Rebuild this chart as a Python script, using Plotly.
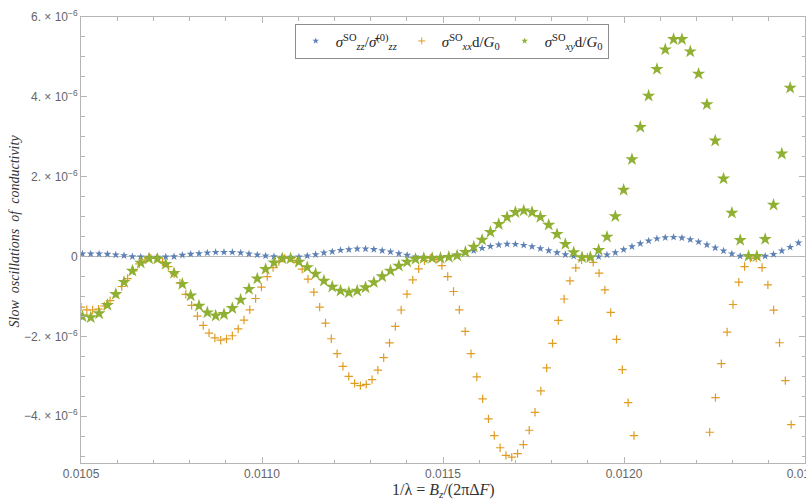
import plotly.graph_objects as go

# ---- sampling grids (uniform in 1/lambda) ----
ZZ_XY_START = 0.010504
ZZ_XY_STEP = 2.3e-5
XX_START = 0.0105
XX_STEP = 1.608e-5

# ---- series values, in units of 1e-6 ----
sigma_zz = [
    0.068, 0.068, 0.068, 0.060, 0.043, 0.025, 0.000, -0.008, -0.015, -0.015,
    -0.008, 0.000, 0.035, 0.060, 0.075, 0.093, 0.110, 0.110, 0.110, 0.093,
    0.068, 0.043, 0.018, 0.000, -0.015, -0.015, -0.008, 0.018, 0.050, 0.093,
    0.125, 0.160, 0.175, 0.193, 0.193, 0.180, 0.150, 0.118, 0.075, 0.035,
    -0.003, -0.015, -0.020, -0.015, 0.005, 0.043, 0.093, 0.148, 0.210, 0.255,
    0.293, 0.313, 0.310, 0.285, 0.250, 0.200, 0.150, 0.098, 0.050, 0.010,
    -0.020, -0.023, -0.003, 0.043, 0.100, 0.173, 0.250, 0.325, 0.393, 0.448,
    0.475, 0.485, 0.468, 0.425, 0.368, 0.293, 0.218, 0.143, 0.068, 0.010,
    -0.008, -0.008, 0.010, 0.055, 0.143, 0.235, 0.343,
]

sigma_xy = [
    -1.500, -1.525, -1.425, -1.215, -0.940, -0.638, -0.358, -0.158, -0.050, -0.058,
    -0.190, -0.415, -0.688, -0.978, -1.233, -1.403, -1.483, -1.445, -1.295, -1.083,
    -0.815, -0.553, -0.315, -0.150, -0.050, -0.050, -0.133, -0.270, -0.433, -0.608,
    -0.758, -0.858, -0.900, -0.858, -0.775, -0.648, -0.500, -0.358, -0.233, -0.133,
    -0.065, -0.040, -0.038, -0.038, -0.013, 0.023, 0.113, 0.243, 0.418, 0.613,
    0.810, 0.985, 1.110, 1.150, 1.110, 0.988, 0.793, 0.560, 0.310, 0.105,
    -0.020, -0.020, 0.163, 0.493, 1.005, 1.668, 2.435, 3.243, 4.025, 4.693,
    5.185, 5.443, 5.443, 5.135, 4.575, 3.810, 2.900, 1.950, 1.093, 0.410,
    0.010, 0.010, 0.435, 1.293, 2.575, 4.225,
]

# None: value lies below the plotted range
sigma_xx = [
    -1.265, -1.333, -1.338, -1.315, -1.238, -1.103, -0.928, -0.750, -0.550, -0.358,
    -0.183, -0.083, -0.040, -0.040, -0.133, -0.250, -0.433, -0.665, -0.945, -1.220,
    -1.490, -1.725, -1.915, -2.038, -2.095, -2.063, -1.983, -1.813, -1.590, -1.333,
    -1.050, -0.765, -0.500, -0.275, -0.125, -0.040, -0.040, -0.145, -0.315, -0.565,
    -0.890, -1.265, -1.665, -2.058, -2.433, -2.750, -3.000, -3.175, -3.233, -3.200,
    -3.083, -2.845, -2.533, -2.163, -1.750, -1.338, -0.940, -0.583, -0.308, -0.103,
    -0.040, -0.070, -0.225, -0.500, -0.875, -1.333, -1.875, -2.433, -3.015, -3.565,
    -4.065, -4.483, -4.788, -4.978, -5.025, -4.933, -4.708, -4.350, -3.900, -3.365,
    -2.790, -2.173, -1.600, -1.063, -0.608, -0.283, -0.083, -0.015, -0.145, -0.415,
    -0.833, -1.400, -2.075, -2.833, -3.658, -4.483, None, None, None, None,
    None, None, None, None, None, None, None, None, -4.400, -3.533,
    -2.683, -1.890, -1.200, -0.640, -0.250, -0.040, -0.040, -0.275, -0.708, -1.340,
    -2.158, -3.108, -4.208,
]

x_ticks = [0.0105, 0.0110, 0.0115, 0.0120, 0.0125]
x_tick_text = ["0.0105", "0.0110", "0.0115", "0.0120", "0.0125"]
y_ticks = [-4e-6, -2e-6, 0, 2e-6, 4e-6, 6e-6]
y_tick_text = ["−4. × 10<sup>−6</sup>", "−2. × 10<sup>−6</sup>", "0",
               "2. × 10<sup>−6</sup>", "4. × 10<sup>−6</sup>", "6. × 10<sup>−6</sup>"]

legend_labels = [
    "<i>σ</i><sup>SO</sup><sub><i>zz</i></sub>/<i>σ̄</i><sup>(0)</sup><sub><i>zz</i></sub>",
    "<i>σ</i><sup>SO</sup><sub><i>xx</i></sub>d/<i>G</i><sub>0</sub>",
    "<i>σ</i><sup>SO</sup><sub><i>xy</i></sub>d/<i>G</i><sub>0</sub>",
]

x_zz_xy = [ZZ_XY_START + i * ZZ_XY_STEP for i in range(len(sigma_zz))]
x_xx = [XX_START + i * XX_STEP for i in range(len(sigma_xx))]


def scaled(vals):
    return [None if v is None else v * 1e-6 for v in vals]


BLUE = "#5E81B5"
ORANGE = "#E19C24"
GREEN = "#8FB032"
FRAME = "#B5B5B5"
SERIF = "Liberation Serif"

styles = [
    dict(symbol="star", size=6, color=BLUE, line=dict(width=0)),
    dict(symbol="cross-thin", size=6, color=ORANGE, line=dict(color=ORANGE, width=1.2)),
    dict(symbol="star", size=10, color=GREEN, line=dict(width=0)),
]
legend_styles = [
    dict(symbol="star", size=5, color=BLUE, line=dict(width=0)),
    dict(symbol="cross-thin", size=5, color=ORANGE, line=dict(color=ORANGE, width=1)),
    dict(symbol="star", size=5, color=GREEN, line=dict(width=0)),
]
series = [
    (x_zz_xy, sigma_zz),
    (x_xx, sigma_xx),
    (x_zz_xy[:len(sigma_xy)], sigma_xy),
]

fig = go.Figure()
for (xs, ys), st in zip(series, styles):
    fig.add_trace(go.Scatter(x=xs, y=scaled(ys), mode="markers",
                             marker=st, showlegend=False, hoverinfo="x+y"))
# small key symbols for the legend box
for label, st in zip(legend_labels, legend_styles):
    fig.add_trace(go.Scatter(x=[None], y=[None], mode="markers",
                             name=label, marker=st, showlegend=True))

axis_common = dict(
    showline=True, linecolor=FRAME, linewidth=1, mirror="allticks",
    ticks="inside", tickcolor=FRAME, ticklen=6, tickwidth=1,
    showgrid=False, automargin=False,
    tickfont=dict(family="Liberation Sans", size=12, color="#666666"),
)

fig.update_xaxes(
    range=[0.0105, 0.0125], tickmode="array", tickvals=x_ticks, ticktext=x_tick_text,
    zeroline=False, ticklabeloverflow="allow",
    minor=dict(dtick=0.0001, ticks="inside", ticklen=3.5, tickcolor=FRAME, showgrid=False),
    **axis_common,
)
fig.update_yaxes(
    range=[-5.17e-6, 6.0e-6], tickmode="array", tickvals=y_ticks, ticktext=y_tick_text,
    zeroline=True, zerolinecolor="#BBBBBB", zerolinewidth=1,
    minor=dict(dtick=0.5e-6, ticks="inside", ticklen=3.5, tickcolor=FRAME, showgrid=False),
    **axis_common,
)

fig.update_layout(
    width=806, height=500,
    margin=dict(l=81, r=1, t=17, b=37),
    paper_bgcolor="white", plot_bgcolor="white",
    showlegend=True,
    legend=dict(
        orientation="h", x=0.512, xanchor="center", y=0.985, yanchor="top",
        bordercolor="#8C8C8C", borderwidth=1, bgcolor="white",
        font=dict(family=SERIF, size=15, color="#222222"),
        itemsizing="trace", itemwidth=30, entrywidthmode="pixels",
    ),
    annotations=[
        dict(text="<i>Slow  oscillations  of  conductivity</i>",
             xref="paper", yref="paper", x=-0.092, y=0.52,
             xanchor="center", yanchor="middle", textangle=-90, showarrow=False,
             font=dict(family=SERIF, size=14, color="#333333")),
        dict(text="1/λ = <i>B</i><sub><i>z</i></sub>/(2πΔ<i>F</i>)",
             xref="paper", yref="paper", x=0.5, y=-0.062,
             xanchor="center", yanchor="middle", showarrow=False,
             font=dict(family=SERIF, size=16, color="#333333")),
    ],
)

fig.write_html("out.html")
